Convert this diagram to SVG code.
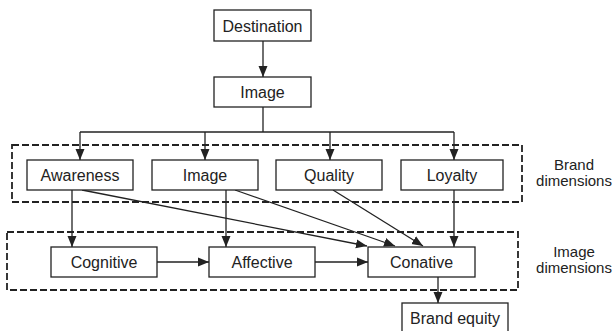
<svg xmlns="http://www.w3.org/2000/svg" width="616" height="331" viewBox="0 0 616 331">
<style>
.box{fill:#fff;stroke:#222;stroke-width:1.3}
.grp{fill:none;stroke:#222;stroke-width:1.8;stroke-dasharray:7 3}
.t{font-family:"Liberation Sans",Arial,sans-serif;font-size:16px;fill:#222;text-anchor:middle}
.s{font-family:"Liberation Sans",Arial,sans-serif;font-size:15px;fill:#222;text-anchor:middle}
.c{fill:none;stroke:#222;stroke-width:1.3}
.a{marker-end:url(#ah)}
</style>
<defs>
<marker id="ah" markerUnits="userSpaceOnUse" markerWidth="11" markerHeight="10" viewBox="0 0 11 9" refX="11" refY="4.5" orient="auto">
<path d="M0,0 L11,4.5 L0,9 Z" fill="#222"/>
</marker>
</defs>
<rect width="616" height="331" fill="#fff"/>
<g id="brand-dimensions">
<rect class="grp" x="12" y="145" width="510" height="57"/>
<text class="s" x="574" y="170">Brand</text>
<text class="s" x="574" y="186">dimensions</text>
</g>
<g id="image-dimensions">
<rect class="grp" x="7" y="232" width="511" height="58"/>
<text class="s" x="574" y="257">Image</text>
<text class="s" x="574" y="273">dimensions</text>
</g>
<g id="connectors">
<line class="c a" x1="263" y1="41" x2="263" y2="77"/>
<line class="c" x1="263" y1="107" x2="263" y2="132"/>
<line class="c" x1="80" y1="132" x2="454" y2="132"/>
<line class="c a" x1="80" y1="132" x2="80" y2="160"/>
<line class="c a" x1="205" y1="132" x2="205" y2="160"/>
<line class="c a" x1="330" y1="132" x2="330" y2="160"/>
<line class="c a" x1="454" y1="132" x2="454" y2="160"/>
<line class="c a" x1="72" y1="190" x2="72" y2="247"/>
<line class="c a" x1="226" y1="190" x2="226" y2="247"/>
<line class="c a" x1="454" y1="190" x2="454" y2="247"/>
<line class="c a" x1="82" y1="190" x2="367" y2="246"/>
<line class="c a" x1="235" y1="190" x2="395" y2="246"/>
<line class="c a" x1="333" y1="190" x2="423" y2="246"/>
<line class="c a" x1="157" y1="262" x2="209" y2="262"/>
<line class="c a" x1="315" y1="262" x2="368" y2="262"/>
<line class="c a" x1="438" y1="277" x2="438" y2="303"/>
</g>
<g id="destination">
<rect class="box" x="214" y="10" width="97" height="31"/>
<text class="t" x="262.5" y="31.5">Destination</text>
</g>
<g id="image-top">
<rect class="box" x="214" y="77" width="97" height="30"/>
<text class="t" x="262.5" y="97.5">Image</text>
</g>
<g id="awareness">
<rect class="box" x="27" y="160" width="106" height="30"/>
<text class="t" x="80" y="180.5">Awareness</text>
</g>
<g id="image">
<rect class="box" x="152" y="160" width="106" height="30"/>
<text class="t" x="205" y="180.5">Image</text>
</g>
<g id="quality">
<rect class="box" x="276" y="160" width="106" height="30"/>
<text class="t" x="329" y="180.5">Quality</text>
</g>
<g id="loyalty">
<rect class="box" x="401" y="160" width="102" height="30"/>
<text class="t" x="452" y="180.5">Loyalty</text>
</g>
<g id="cognitive">
<rect class="box" x="51" y="247" width="106" height="30"/>
<text class="t" x="104" y="267.5">Cognitive</text>
</g>
<g id="affective">
<rect class="box" x="209" y="247" width="106" height="30"/>
<text class="t" x="262" y="267.5">Affective</text>
</g>
<g id="conative">
<rect class="box" x="368" y="247" width="107" height="30"/>
<text class="t" x="421.5" y="267.5">Conative</text>
</g>
<g id="brand-equity">
<rect class="box" x="402" y="303" width="106" height="31"/>
<text class="t" x="455" y="323.5">Brand equity</text>
</g>
</svg>
